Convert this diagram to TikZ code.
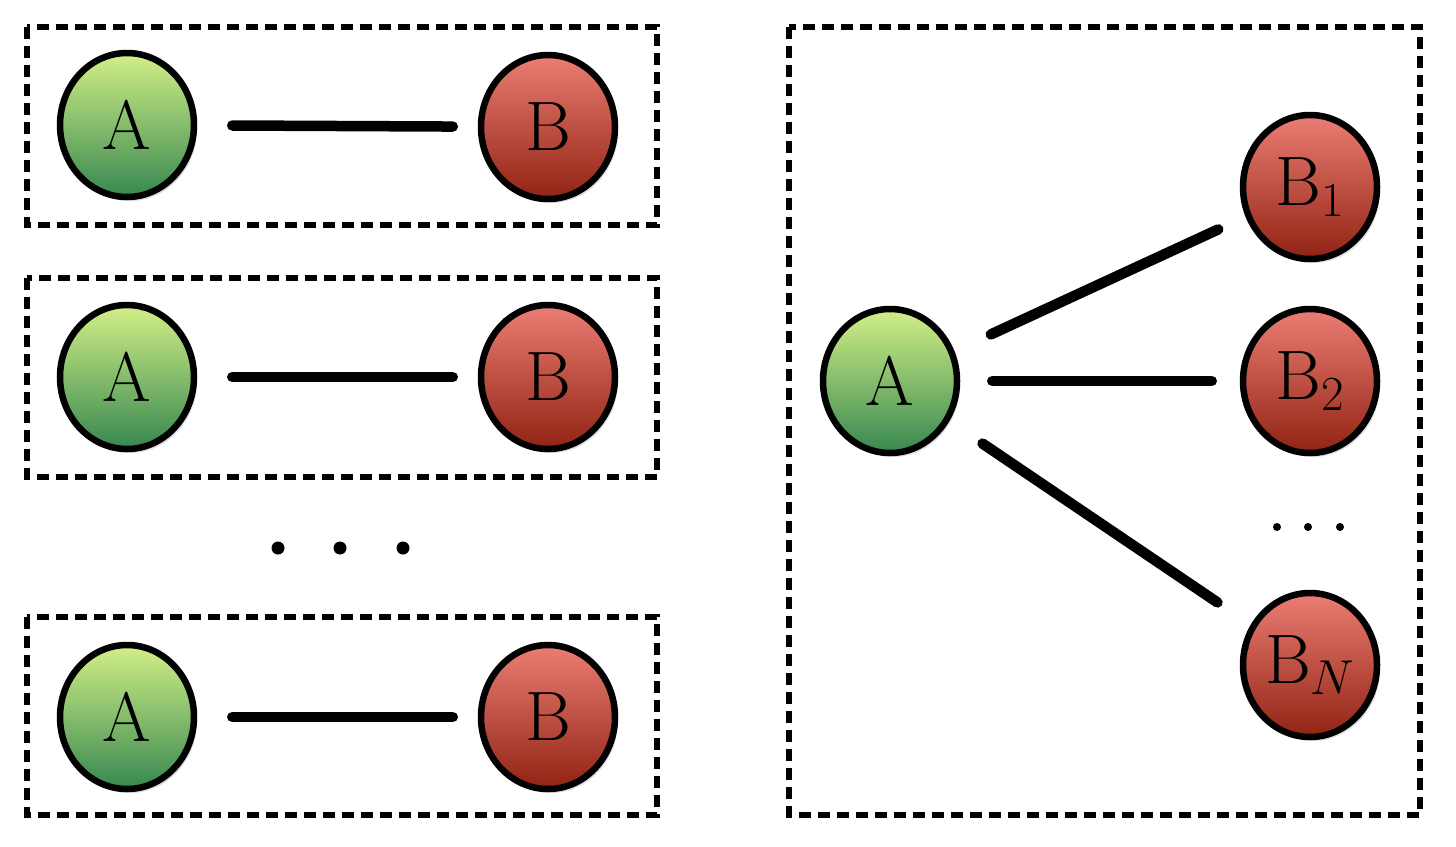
\RequirePackage{fix-cm}
\documentclass[tikz,border=0pt]{standalone}
\DeclareMathSizes{70}{70}{49}{35}
\usetikzlibrary{shapes.geometric,shadows,decorations.pathmorphing}
\definecolor{gtop}{RGB}{210,240,135}
\definecolor{gbot}{RGB}{55,135,80}
\definecolor{rtop}{RGB}{235,125,115}
\definecolor{rbot}{RGB}{145,35,20}
\begin{document}
\begin{tikzpicture}[x=1pt,y=-1pt,
  rough/.style={postaction={draw=black,line width=1.6pt,decorate,
    decoration={random steps,segment length=2.5pt,amplitude=1.6pt}}},
  ball/.style={ellipse,minimum width=134pt,minimum height=144pt,inner sep=0pt,
    line width=6.5pt,draw=black,font=\fontsize{70}{82}\selectfont,rough,
    drop shadow={opacity=0.25,shadow xshift=3pt,shadow yshift=-4pt}},
  aball/.style={ball,top color=gtop,bottom color=gbot},
  bball/.style={ball,top color=rtop,bottom color=rbot},
  edge/.style={line width=10.5pt,line cap=round,black},
  frame/.style={line width=5.5pt,dash pattern=on 12pt off 7pt,black},
  dotbig/.style={circle,fill=black,inner sep=0pt,minimum size=13pt},
  dotsmall/.style={circle,fill=black,inner sep=0pt,minimum size=8pt}]
\useasboundingbox (0,0) rectangle (1456,846);
% frames
\draw[frame] (27,27) rectangle (657,225);
\draw[frame] (27,278) rectangle (657,477);
\draw[frame] (27,617) rectangle (657,815);
\draw[frame] (789,27) rectangle (1420,815);
% left pairs
\node[aball] (a1) at (127,125) {A};
\node[bball] (b1) at (548,127) {B};
\node[aball] (a2) at (127,377) {A};
\node[bball] (b2) at (548,377) {B};
\node[aball] (a3) at (127,717) {A};
\node[bball] (b3) at (548,717) {B};
\draw[edge,shorten <=35pt,shorten >=25pt] (a1) -- (b1);
\draw[edge,shorten <=35pt,shorten >=25pt] (a2) -- (b2);
\draw[edge,shorten <=35pt,shorten >=25pt] (a3) -- (b3);
\node[dotbig] (d1) at (278,548) {};
\node[dotbig] (d2) at (340,548) {};
\node[dotbig] (d3) at (403,548) {};
% right star
\node[aball] (ar) at (890,381) {A};
\node[bball] (r1) at (1310,187) {B$_1$};
\node[bball] (r2) at (1310,381) {B$_2$};
\node[bball] (rn) at (1310,665) {B$_N$};
\draw[edge,shorten <=40pt,shorten >=30pt] (ar) -- (r1);
\draw[edge,shorten <=32pt,shorten >=28pt] (ar) -- (r2);
\draw[edge,shorten <=40pt,shorten >=40pt] (ar) -- (rn);
\node[dotsmall] (e1) at (1277,527) {};
\node[dotsmall] (e2) at (1308,527) {};
\node[dotsmall] (e3) at (1340,527) {};
\end{tikzpicture}
\end{document}
